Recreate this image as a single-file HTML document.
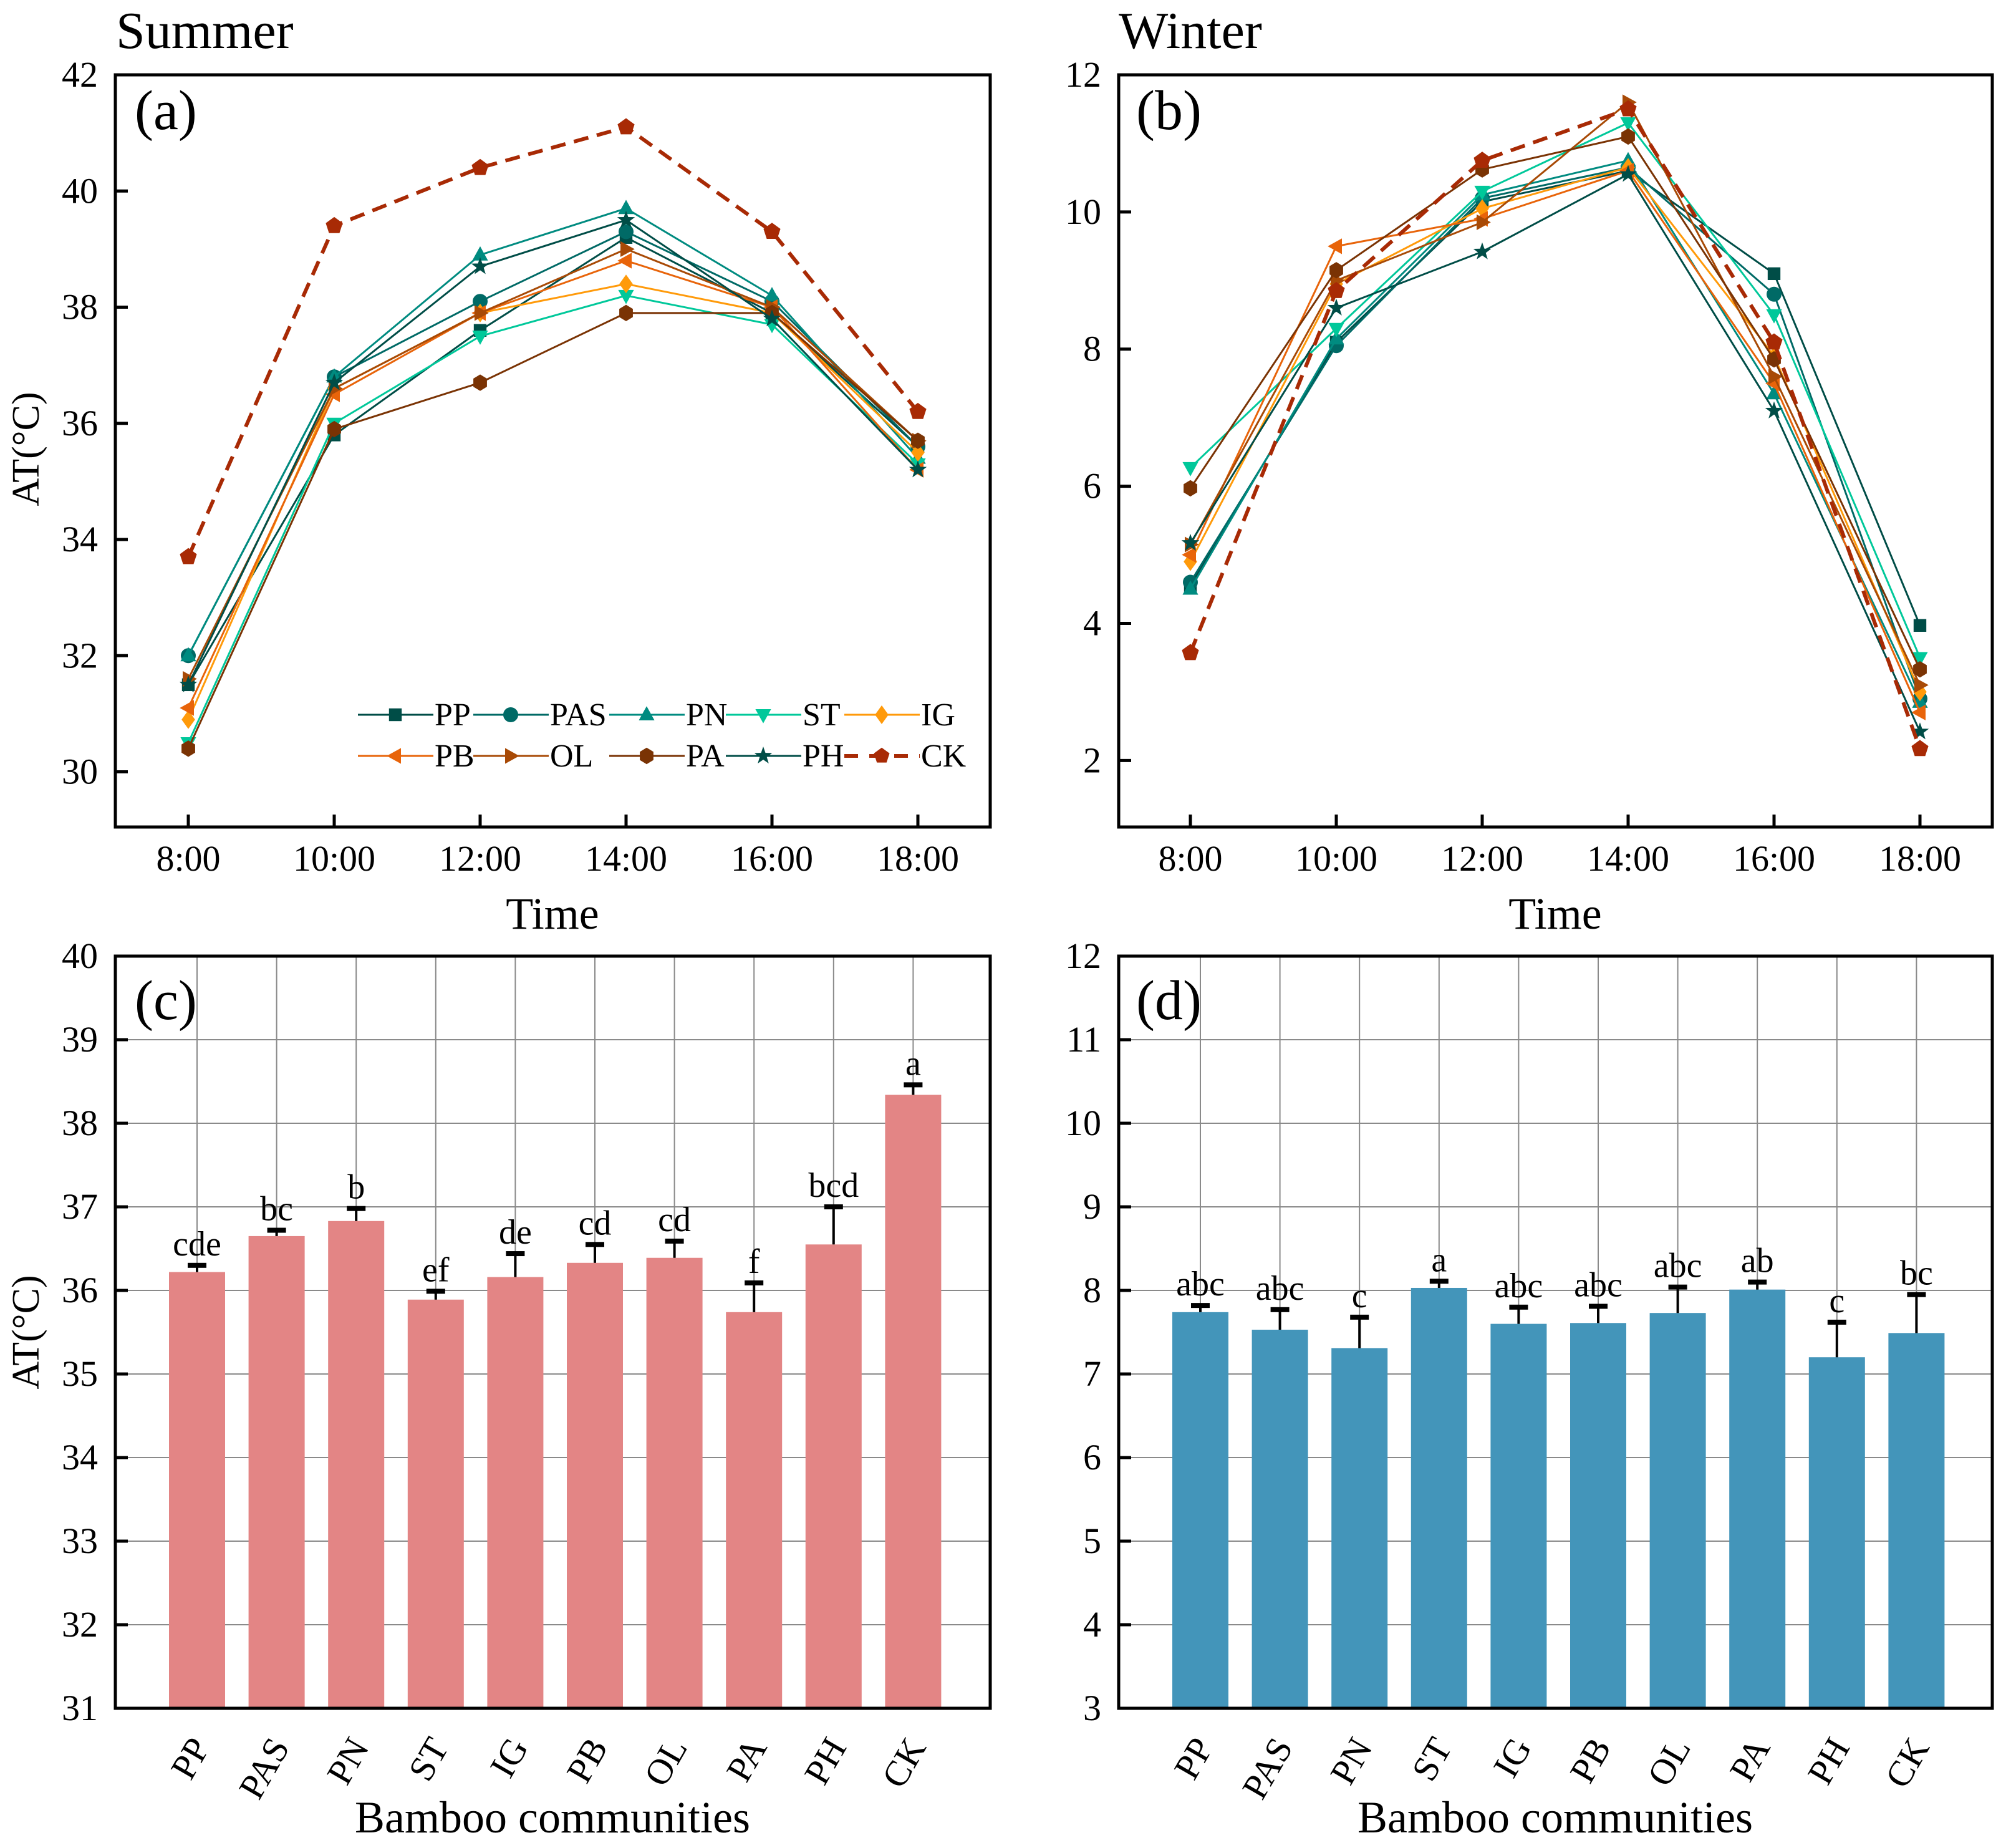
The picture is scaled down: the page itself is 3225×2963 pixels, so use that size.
<!DOCTYPE html>
<html><head><meta charset="utf-8"><style>
html,body{margin:0;padding:0;background:#fff}
svg, svg text{font-family:"Liberation Serif","Times New Roman",Times,serif}
</style></head><body>
<svg id="fig" width="3225" height="2958" viewBox="0 0 3225 2958" xmlns="http://www.w3.org/2000/svg" font-family="Liberation Serif, Times New Roman, serif"></svg>
<script>
const times = ["8:00","10:00","12:00","14:00","16:00","18:00"];
const seriesNames = ["PP","PAS","PN","ST","IG","PB","OL","PA","PH","CK"];
const summerPP  = [31.5,35.8,37.6,39.2,37.9,35.6];
const summerPAS = [32.0,36.8,38.1,39.3,38.1,35.6];
const summerPN  = [32.0,36.8,38.9,39.7,38.2,35.4];
const summerST  = [30.5,36.0,37.5,38.2,37.7,35.3];
const summerIG  = [30.9,36.6,37.9,38.4,37.9,35.5];
const summerPB  = [31.1,36.5,37.9,38.8,38.0,35.2];
const summerOL  = [31.6,36.6,37.9,39.0,38.0,35.7];
const summerPA  = [30.4,35.9,36.7,37.9,37.9,35.7];
const summerPH  = [31.5,36.7,38.7,39.5,37.8,35.2];
const summerCK  = [33.7,39.4,40.4,41.1,39.3,36.2];
const winterPP  = [4.55,8.1,10.15,10.6,9.1,3.97];
const winterPAS = [4.6,8.05,10.2,10.65,8.8,2.9];
const winterPN  = [4.5,8.15,10.25,10.75,7.35,2.85];
const winterST  = [6.27,8.3,10.3,11.3,8.5,3.5];
const winterIG  = [4.9,8.95,10.05,10.65,7.9,3.0];
const winterPB  = [5.0,9.5,9.9,10.6,7.5,2.7];
const winterOL  = [5.15,9.0,9.85,11.6,7.6,3.1];
const winterPA  = [5.97,9.15,10.62,11.1,7.85,3.33];
const winterPH  = [5.17,8.6,9.42,10.55,7.1,2.42];
const winterCK  = [3.57,8.85,10.75,11.5,8.1,2.17];
const summerMeans = [36.22,36.65,36.83,35.89,36.16,36.33,36.39,35.74,36.55,38.34];
const summerErr   = [0.08,0.07,0.15,0.10,0.28,0.22,0.20,0.35,0.45,0.12];
const summerSig   = ["cde","bc","b","ef","de","cd","cd","f","bcd","a"];
const winterMeans = [7.74,7.53,7.31,8.03,7.60,7.61,7.73,8.01,7.20,7.49];
const winterErr   = [0.08,0.24,0.37,0.08,0.20,0.20,0.31,0.09,0.42,0.46];
const winterSig   = ["abc","abc","c","a","abc","abc","abc","ab","c","bc"];
const ticksA = [30,32,34,36,38,40,42];
const ticksB = [2,4,6,8,10,12];
const ticksC = [31,32,33,34,35,36,37,38,39,40];
const ticksD = [3,4,5,6,7,8,9,10,11,12];

const summerSeries=[summerPP,summerPAS,summerPN,summerST,summerIG,summerPB,summerOL,summerPA,summerPH,summerCK];
const winterSeries=[winterPP,winterPAS,winterPN,winterST,winterIG,winterPB,winterOL,winterPA,winterPH,winterCK];
const colors=["#004D47","#006A66","#008B80","#00C89A","#FF9A0A","#E8640A","#A84A06","#7A3304","#004D47","#A82A05"];
const markers=["square","circle","up","down","diamond","left","right","hexagon","star","pentagon"];
const FONT='"Liberation Serif","Times New Roman",Times,serif';

const NS="http://www.w3.org/2000/svg";
const svg=document.getElementById('fig');
function el(tag,attrs,parent){const e=document.createElementNS(NS,tag);for(const k in attrs)e.setAttribute(k,attrs[k]);(parent||svg).appendChild(e);return e;}
function txt(s,attrs,parent){attrs['font-family']=FONT;const e=el('text',attrs,parent);e.textContent=s;return e;}

function marker(type,x,y,r,color,g){
  let e;
  if(type==="square"){e=el('rect',{x:x-r*0.85,y:y-r*0.85,width:r*1.7,height:r*1.7,fill:color},g);}
  else if(type==="circle"){e=el('circle',{cx:x,cy:y,r:r,fill:color},g);}
  else{
    let pts=[];
    if(type==="up")pts=[[0,-1.15],[1.05,0.75],[-1.05,0.75]];
    else if(type==="down")pts=[[0,1.15],[1.05,-0.75],[-1.05,-0.75]];
    else if(type==="left")pts=[[-1.15,0],[0.75,-1.05],[0.75,1.05]];
    else if(type==="right")pts=[[1.15,0],[-0.75,-1.05],[-0.75,1.05]];
    else if(type==="diamond")pts=[[0,-1.25],[0.9,0],[0,1.25],[-0.9,0]];
    else if(type==="hexagon"){for(let i=0;i<6;i++){const a=Math.PI/6+i*Math.PI/3;pts.push([Math.cos(a)*1.05,Math.sin(a)*1.1]);}}
    else if(type==="pentagon"){for(let i=0;i<5;i++){const a=-Math.PI/2+i*2*Math.PI/5;pts.push([Math.cos(a)*1.1,Math.sin(a)*1.1]);}}
    else if(type==="star"){for(let i=0;i<10;i++){const a=-Math.PI/2+i*Math.PI/5;const rr=i%2?0.5:1.25;pts.push([Math.cos(a)*rr,Math.sin(a)*rr]);}}
    e=el('polygon',{points:pts.map(p=>(x+p[0]*r)+','+(y+p[1]*r)).join(' '),fill:color},g);
  }
  
  
  return e;
}

function frame(L,R,T,B,name){
  const r=el('rect',{x:L,y:T,width:R-L,height:B-T,fill:'none',stroke:'#000','stroke-width':5});
  
  
}

function yAxis(L,R,T,B,ticks,min,max,name,grid){
  const ys=v=>B-(v-min)/(max-min)*(B-T);
  const g=el('g',{});
  
  
  ticks.forEach(t=>{
    const y=ys(t);
    if(grid && t>min && t<max) el('line',{x1:L,x2:R,y1:y,y2:y,stroke:'#8a8a8a','stroke-width':2},g);
    el('line',{x1:L,x2:L+20,y1:y,y2:y,stroke:'#000','stroke-width':5},g);
    const lb=txt(String(t),{x:L-28,y:y+19,'font-size':58,'text-anchor':'end'},g);
    
    
  });
  return ys;
}

function linePanel(L,R,T,B,min,max,ticks,series,xs,name){
  const ys=yAxis(L,R,T,B,ticks,min,max,name,false);
  const xpos=i=>xs+i*234;
  const g=el('g',{});
  
  
  times.forEach((t,i)=>{
    el('line',{x1:xpos(i),x2:xpos(i),y1:B,y2:B-20,stroke:'#000','stroke-width':5},g);
    const lb=txt(t,{x:xpos(i),y:B+70,'font-size':58,'text-anchor':'middle'},g);
    
    
  });
  series.forEach((s,k)=>{
    const sg=el('g',{});
    
    
    const pts=s.map((v,i)=>xpos(i)+','+ys(v)).join(' ');
    const attrs={points:pts,fill:'none',stroke:colors[k],'stroke-width':k===9?6:3};
    if(k===9)attrs['stroke-dasharray']='24 14';
    el('polyline',attrs,sg);
    s.forEach((v,i)=>marker(markers[k],xpos(i),ys(v),k===9?13:12,colors[k],sg));
  });
  frame(L,R,T,B,name);
}

function barPanel(L,R,T,B,min,max,ticks,means,errs,sigs,color,name){
  const ys=yAxis(L,R,T,B,ticks,min,max,name,true);
  const xpos=i=>L+131+i*127.6;
  const g=el('g',{});
  seriesNames.forEach((n,i)=>{
    el('line',{x1:xpos(i),x2:xpos(i),y1:T,y2:B,stroke:'#8a8a8a','stroke-width':2},g);
  });
  means.forEach((v,i)=>{
    const b=el('rect',{x:xpos(i)-45,y:ys(v),width:90,height:B-ys(v),fill:color});
    
    
    const top=ys(v+errs[i]);
    const eg=el('g',{});
    
    
    el('line',{x1:xpos(i),x2:xpos(i),y1:ys(v),y2:top,stroke:'#000','stroke-width':4},eg);
    el('rect',{x:xpos(i)-15,y:top-4,width:30,height:8,fill:'#000'},eg);
    const s=txt(sigs[i],{x:xpos(i),y:top-16,'font-size':56,'text-anchor':'middle'});
    
    
    const lb=txt(seriesNames[i],{x:0,y:0,'font-size':58,'text-anchor':'end',transform:`translate(${xpos(i)+22},${B+62}) rotate(-60)`});
    
    
  });
  frame(L,R,T,B,name);
}

let t;
t=txt("Summer",{x:186,y:77,'font-size':84});
t=txt("Winter",{x:1794,y:77,'font-size':84});

linePanel(185,1588,120,1326,29.05,42,ticksA,summerSeries,302,'panel-a');
linePanel(1794,3195,120,1326,1.03,12,ticksB,winterSeries,1909,'panel-b');
barPanel(185,1588,1533,2739,31,40,ticksC,summerMeans,summerErr,summerSig,'#E38585','panel-c');
barPanel(1794,3195,1533,2739,3,12,ticksD,winterMeans,winterErr,winterSig,'#4395BA','panel-d');

[["(a)",216,207],["(b)",1822,207],["(c)",216,1634],["(d)",1822,1634]].forEach(p=>{
  const e=txt(p[0],{x:p[1],y:p[2],'font-size':90});
  
  
});

[["Time",886,1489],["Time",2494,1489],["Bamboo communities",886,2938],["Bamboo communities",2494,2938]].forEach(p=>{
  const e=txt(p[0],{x:p[1],y:p[2],'font-size':72,'text-anchor':'middle'});
  
  
});
[[720],[2136]].forEach(p=>{
  const e=txt("AT(°C)",{x:0,y:0,'font-size':62,'text-anchor':'middle',transform:`translate(62,${p[0]}) rotate(-90)`});
  
  
});

const legend=el('g',{});


const colX=[574,759,977,1164,1354];
seriesNames.forEach((n,k)=>{
  const row=k<5?0:1, col=k%5;
  const x0=colX[col], y=row?1212:1146;
  const lg=el('g',{},legend);
  
  
  const a={x1:x0,x2:x0+121,y1:y,y2:y,stroke:colors[k],'stroke-width':k===9?6:3};
  if(k===9)a['stroke-dasharray']='22 18';
  el('line',a,lg);
  marker(markers[k],x0+60,y,12,colors[k],lg);
  txt(n,{x:x0+123,y:y+17,'font-size':52},lg);
});
</script>
</body></html>
